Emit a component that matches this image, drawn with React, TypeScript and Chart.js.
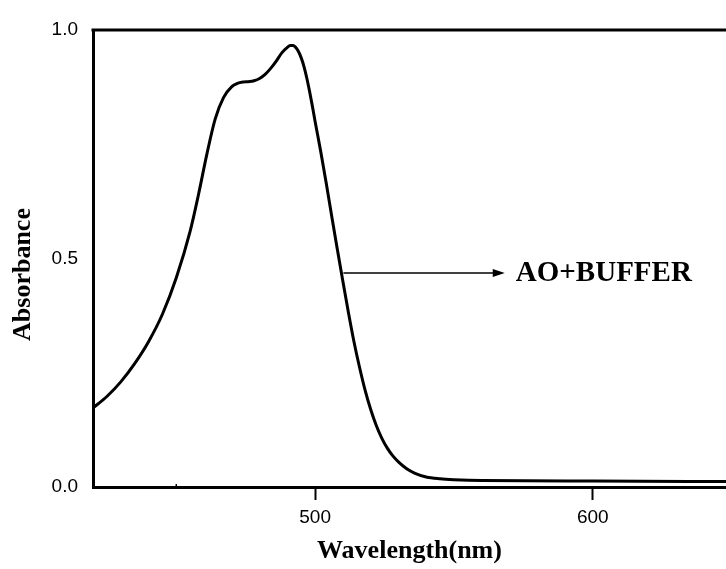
import React, { useEffect, useRef } from "react";
import { Chart, registerables } from "chart.js";

Chart.register(...registerables);

const wavelengths = [
  420, 425, 430, 435, 440, 445, 450, 455, 458, 461, 464, 467, 470, 472, 474, 476, 478, 480, 482, 484, 486, 488,
  490, 491, 492, 493, 494, 495, 496, 497, 498, 499, 500, 502, 504, 506, 508, 510, 512, 514, 516, 518, 520, 522,
  524, 526, 528, 530, 533, 536, 540, 545, 550, 560, 600, 648,
];
const absorbance = [
  0.173, 0.198, 0.23, 0.27, 0.318, 0.378, 0.458, 0.56, 0.64, 0.728, 0.805, 0.852, 0.876, 0.883, 0.886, 0.887,
  0.889, 0.894, 0.903, 0.916, 0.932, 0.95, 0.962, 0.966, 0.966, 0.962, 0.953, 0.939, 0.92, 0.895, 0.866, 0.834,
  0.8, 0.735, 0.665, 0.592, 0.52, 0.45, 0.382, 0.318, 0.262, 0.212, 0.17, 0.135, 0.107, 0.085, 0.068, 0.055,
  0.04, 0.03, 0.022, 0.018, 0.016, 0.014, 0.013, 0.012,
];
const xTicks = [500, 600];
const yTicks = [0, 0.5, 1.0];
const seriesLabel = "AO+BUFFER";
const xTitle = "Wavelength(nm)";
const yTitle = "Absorbance";

const annotationPlugin = {
  id: "annot",
  afterDatasetsDraw(chart: any) {
    const { ctx, chartArea, scales } = chart;
    const xs = scales.x;
    const ys = scales.y;
    ctx.save();
    // top frame line
    ctx.strokeStyle = "#000";
    ctx.lineWidth = 3;
    ctx.beginPath();
    ctx.moveTo(chartArea.left - 1.5, chartArea.top);
    ctx.lineTo(chartArea.right, chartArea.top);
    ctx.stroke();
    // small minor tick at 450
    ctx.lineWidth = 1.5;
    ctx.beginPath();
    const mx = xs.getPixelForValue(450);
    ctx.moveTo(mx, chartArea.bottom);
    ctx.lineTo(mx, chartArea.bottom - 3);
    ctx.stroke();
    // arrow
    const ay = ys.getPixelForValue(0.468);
    const ax0 = xs.getPixelForValue(510.2);
    const ax1 = xs.getPixelForValue(568.3);
    ctx.lineWidth = 1.5;
    ctx.beginPath();
    ctx.moveTo(ax0, ay);
    ctx.lineTo(ax1 - 10, ay);
    ctx.stroke();
    ctx.fillStyle = "#000";
    ctx.beginPath();
    ctx.moveTo(ax1, ay);
    ctx.lineTo(ax1 - 12, ay - 4);
    ctx.lineTo(ax1 - 12, ay + 4);
    ctx.closePath();
    ctx.fill();
    // series label
    ctx.font = "bold 29px 'Liberation Serif', 'Times New Roman', serif";
    ctx.textAlign = "left";
    ctx.textBaseline = "middle";
    ctx.fillText(seriesLabel, xs.getPixelForValue(572.3), ay);
    // y axis title
    ctx.font = "bold 26px 'Liberation Serif', 'Times New Roman', serif";
    ctx.textAlign = "center";
    ctx.textBaseline = "middle";
    ctx.translate(23, ys.getPixelForValue(0.465));
    ctx.rotate(-Math.PI / 2);
    ctx.fillText(yTitle, 0, 0);
    ctx.restore();
  },
};

export default function App() {
  const ref = useRef<HTMLCanvasElement | null>(null);
  useEffect(() => {
    if (!ref.current) return;
    const chart = new Chart(ref.current, {
      type: "line",
      data: {
        datasets: [
          {
            label: seriesLabel,
            data: wavelengths.map((w, i) => ({ x: w, y: absorbance[i] })),
            borderColor: "#000",
            borderWidth: 3,
            pointRadius: 0,
            cubicInterpolationMode: "monotone",
            fill: false,
          },
        ],
      },
      options: {
        animation: false,
        responsive: false,
        events: [],
        layout: { padding: { top: 30, left: 0, right: 0, bottom: 0 } },
        plugins: { legend: { display: false }, tooltip: { enabled: false } },
        scales: {
          x: {
            type: "linear",
            min: 420,
            max: 648,
            afterBuildTicks: (s: any) => {
              s.ticks = xTicks.map((v) => ({ value: v }));
            },
            afterFit: (s: any) => {
              s.height = 82;
            },
            border: { display: true, color: "#000", width: 3 },
            grid: { display: true, drawOnChartArea: false, drawTicks: true, tickLength: 13, tickWidth: 2, tickColor: "#000" },
            ticks: {
              color: "#000",
              padding: 6,
              maxRotation: 0,
              font: { family: "'Liberation Sans', Arial, sans-serif", size: 19 },
              callback: (v: any) => String(v),
            },
            title: {
              display: true,
              text: xTitle,
              color: "#000",
              padding: { top: 0, bottom: 2 },
              font: { family: "'Liberation Serif', 'Times New Roman', serif", size: 26, weight: "bold" },
            },
          },
          y: {
            type: "linear",
            min: 0,
            max: 1.0,
            afterBuildTicks: (s: any) => {
              s.ticks = yTicks.map((v) => ({ value: v }));
            },
            afterFit: (s: any) => {
              s.width = 93;
            },
            border: { display: true, color: "#000", width: 3 },
            grid: { display: true, drawOnChartArea: false, drawTicks: false },
            ticks: {
              color: "#000",
              padding: 15,
              font: { family: "'Liberation Sans', Arial, sans-serif", size: 19 },
              callback: (v: any) => Number(v).toFixed(1),
            },
            title: { display: false, text: yTitle },
          },
        },
      },
      plugins: [annotationPlugin],
    });
    return () => chart.destroy();
  }, []);
  return (
    <div style={{ position: "absolute", left: 0, top: 0, width: 726, height: 569, background: "#fff" }}>
      <canvas ref={ref} width={726} height={569} style={{ display: "block" }} />
    </div>
  );
}
